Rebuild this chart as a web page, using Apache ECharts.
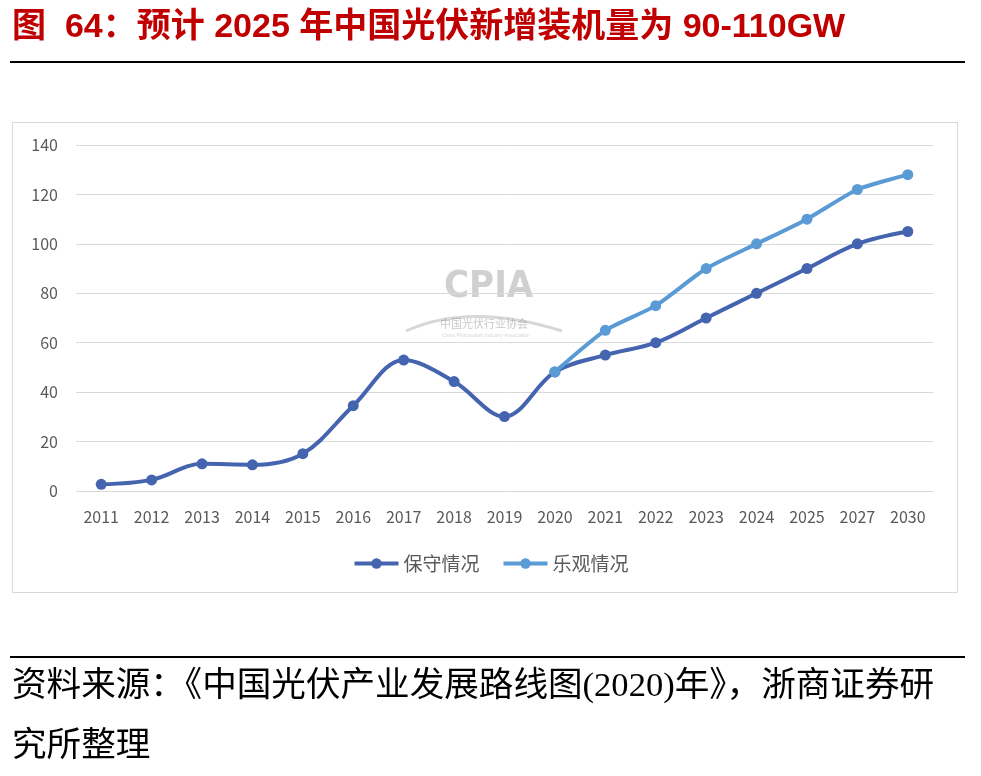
<!DOCTYPE html>
<html>
<head>
<meta charset="utf-8">
<script src="https://cdn.jsdelivr.net/npm/echarts@6/dist/echarts.min.js"></script>
<style>
html,body{margin:0;padding:0;background:#fff;}
#c{width:981px;height:776px;}
</style>
</head>
<body>
<div id="c"></div>
<script>
const categories = ['2011','2012','2013','2014','2015','2016','2017','2018','2019','2020','2021','2022','2023','2024','2025','2027','2030'];
const conservative = [2.7, 4.5, 11, 10.6, 15.1, 34.5, 53, 44.3, 30.1, 48.2, 55, 60, 70, 80, 90, 100, 105];
const optimistic = [null, null, null, null, null, null, null, null, null, 48.2, 65, 75, 90, 100, 110, 122, 128];
const yTicks = {min: 0, max: 140, interval: 20};

const chart = echarts.init(document.getElementById('c'));
const sans = '"Microsoft YaHei","Noto Sans CJK SC","Noto Sans",sans-serif';
chart.setOption({
  animation: false,
  backgroundColor: '#fff',
  grid: {left: 76, right: 48, top: 145, bottom: 285},
  xAxis: {
    type: 'category',
    data: categories,
    boundaryGap: true,
    axisLine: {show: false},
    axisTick: {show: false},
    axisLabel: {color: '#595959', fontSize: 16, margin: 18, fontFamily: sans}
  },
  yAxis: {
    type: 'value',
    min: yTicks.min, max: yTicks.max, interval: yTicks.interval,
    axisLine: {show: false},
    axisTick: {show: false},
    splitLine: {lineStyle: {color: '#d9d9d9', width: 1}},
    axisLabel: {color: '#595959', fontSize: 16, margin: 18, fontFamily: sans}
  },
  legend: {
    left: 'center', top: 549,
    itemWidth: 44, itemHeight: 13, itemGap: 22,
    lineStyle: {width: 4},
    textStyle: {color: '#595959', fontSize: 19, fontFamily: sans},
    data: ['保守情况', '乐观情况']
  },
  graphic: [
    {type: 'text', left: 12, top: 11, style: {text: '图  64：预计 2025 年中国光伏新增装机量为 90-110GW', fill: '#C00000', font: 'bold 34px "Liberation Sans","Noto Sans CJK SC",sans-serif'}},
    {type: 'rect', shape: {x: 10, y: 61, width: 955, height: 2}, style: {fill: '#000'}},
    {type: 'rect', shape: {x: 12.5, y: 122.5, width: 945, height: 470}, style: {fill: 'none', stroke: '#d9d9d9', lineWidth: 1}, z: -1},
    {type: 'text', left: 444, top: 268, style: {text: 'CPIA', fill: 'rgba(120,120,120,0.35)', font: 'bold 38px "DejaVu Sans Condensed","Liberation Sans Narrow",sans-serif'}},
    {type: 'bezierCurve', shape: {x1: 406, y1: 331, cpx1: 470, cpy1: 302, x2: 562, y2: 331}, style: {stroke: 'rgba(140,140,140,0.35)', lineWidth: 3, fill: null}},
    {type: 'text', left: 440, top: 318, style: {text: '中国光伏行业协会', fill: 'rgba(120,120,120,0.4)', font: '11px "Noto Sans CJK SC",sans-serif'}},
    {type: 'text', left: 442, top: 333, style: {text: 'China Photovoltaic Industry Association', fill: 'rgba(120,120,120,0.3)', font: '5px sans-serif'}},
    {type: 'rect', shape: {x: 10, y: 656, width: 955, height: 2}, style: {fill: '#000'}},
    {type: 'text', left: 12, top: 670, style: {text: '资料来源：《中国光伏产业发展路线图(2020)年》，浙商证券研', fill: '#000', font: '34.6px "Liberation Serif","Noto Sans CJK SC",serif'}},
    {type: 'text', left: 12, top: 730, style: {text: '究所整理', fill: '#000', font: '34.6px "Liberation Serif","Noto Sans CJK SC",serif'}}
  ],
  series: [
    {
      name: '保守情况', type: 'line', data: conservative, smooth: 0.35,
      symbol: 'circle', symbolSize: 11,
      lineStyle: {color: '#4564B0', width: 4},
      itemStyle: {color: '#4564B0'},
      z: 2
    },
    {
      name: '乐观情况', type: 'line', data: optimistic, smooth: 0.2,
      symbol: 'circle', symbolSize: 11,
      lineStyle: {color: '#5B9BD5', width: 4},
      itemStyle: {color: '#5B9BD5'},
      z: 3
    }
  ]
});
</script>
</body>
</html>
